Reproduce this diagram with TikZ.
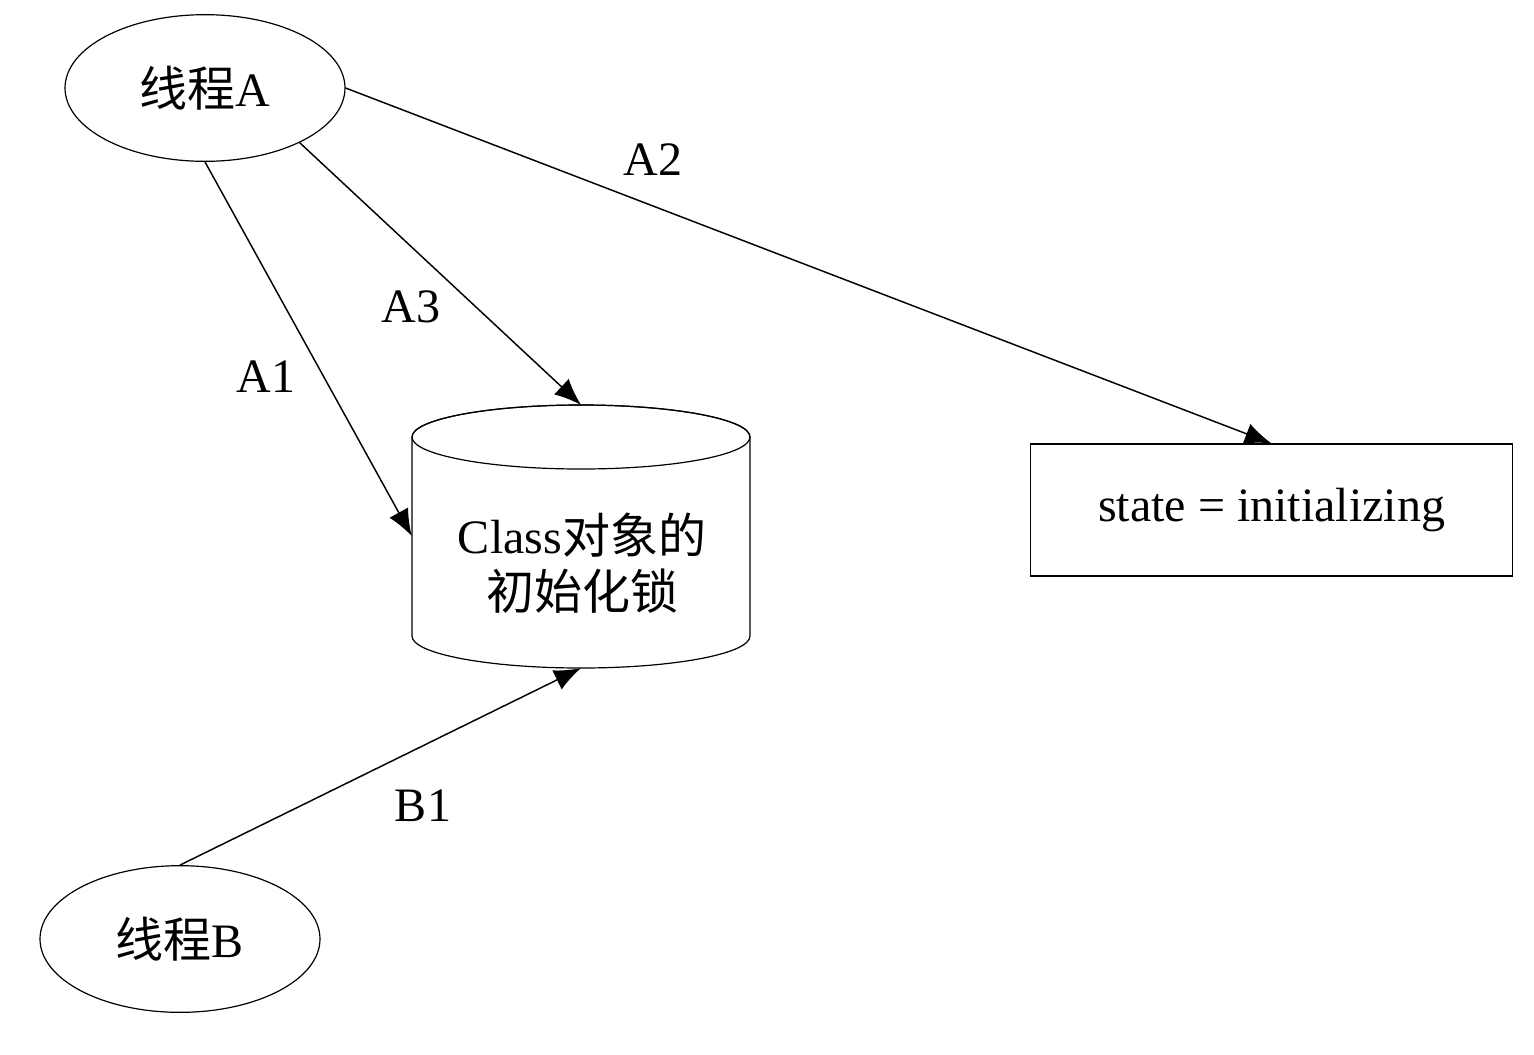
\documentclass[tikz,border=0pt]{standalone}
\usepackage{fontspec}
\setmainfont{Liberation Serif}
\newfontfamily\cjk{Noto Sans CJK SC}
\usetikzlibrary{shapes.geometric,arrows.meta}
\begin{document}
\begin{tikzpicture}[x=0.75pt,y=-0.75pt,
  every node/.style={font=\fontsize{36}{42}\selectfont},
  thread/.style={draw, ellipse, line width=0.9pt, inner sep=0pt, minimum width=210pt, minimum height=110pt},
  statebox/.style={draw, rectangle, line width=0.9pt, minimum width=362pt, minimum height=99pt},
  conn/.style={line width=1.1pt, -{Latex[length=20pt,width=16pt]}},
  lbl/.style={inner sep=0pt}]
\useasboundingbox (0,0) rectangle (1534,1054);
% nodes
\node[thread] (A) at (205,88) {{\cjk 线程}A};
\node[thread] (B) at (180,939) {{\cjk 线程}B};
\node[statebox] (S) at (1271.5,510) {state = initializing};
% cylinder body (geometry holder)
\node[rectangle, inner sep=0pt, minimum width=253.5pt, minimum height=197pt] (cyl) at (581,536.5) {};
\draw[line width=0.9pt, fill=white]
  (412,437) -- (412,636) arc[start angle=180, end angle=0, x radius=169, y radius=32]
  -- (750,437) arc[start angle=0, end angle=-180, x radius=169, y radius=32];
\draw[line width=0.9pt] (581,437) ellipse[x radius=169, y radius=32];
\node[align=center, lbl] (cyltext) at (582,563) {Class{\cjk 对象的}\\{\cjk 初始化锁}};
% connectors
\coordinate (a1end) at (cyl.west |- 0,536);
\draw[conn] (A.south) -- (a1end);
\draw[conn] (A.-30) -- (cyl.north);
\draw[conn] (A.east) -- (S.north);
\draw[conn] (B.north) -- (cyl.south);
% labels
\node[lbl] (l1) at (266,377) {A1};
\node[lbl] (l2) at (653,160) {A2};
\node[lbl] (l3) at (411,307) {A3};
\node[lbl] (l4) at (423,806) {B1};
\end{tikzpicture}
\end{document}
